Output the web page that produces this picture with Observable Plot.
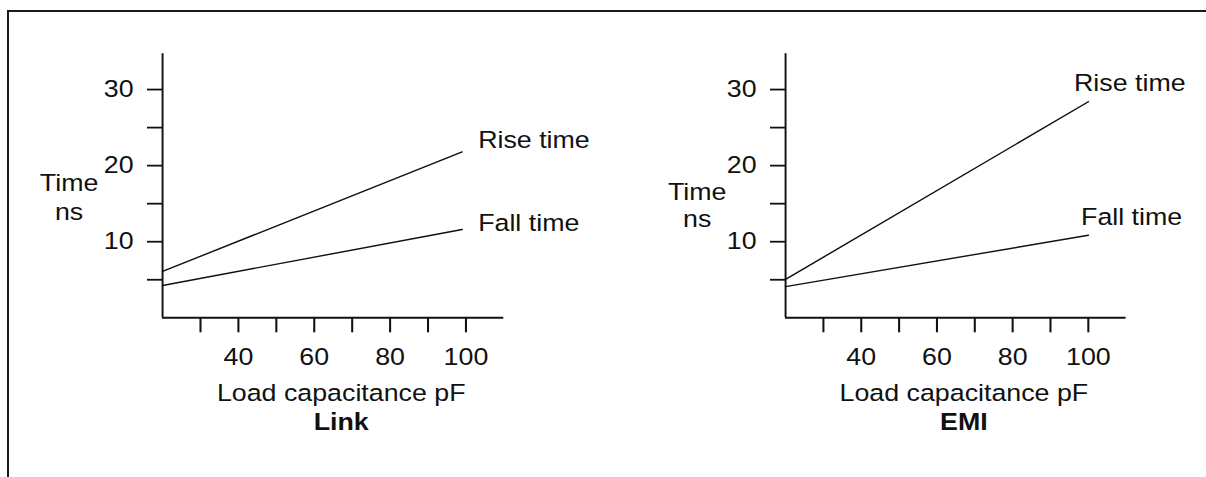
<!DOCTYPE html>
<html>
<head>
<meta charset="utf-8">
<script src="https://cdn.jsdelivr.net/npm/d3@7"></script>
<script src="https://cdn.jsdelivr.net/npm/@observablehq/plot@0.6"></script>
<style>
  html, body { margin: 0; padding: 0; background: #fff; }
  #wrap { position: relative; width: 1206px; height: 477px; overflow: hidden; }
  #frame { position: absolute; left: 7px; top: 10px; right: -20px; bottom: -20px;
           border-top: 2px solid #1a1a1a; border-left: 2px solid #1a1a1a; }
  .panel { position: absolute; top: 0; }
</style>
</head>
<body>
<div id="wrap"><div id="frame"></div></div>
<script>
// ---- data ----
const seriesNames = ["Rise time", "Fall time"];
const linkCapacitance = [20, 99];
const linkRise = [6.1, 21.8];
const linkFall = [4.25, 11.6];
const emiCapacitance = [20, 100];
const emiRise = [5.05, 28.4];
const emiFall = [4.1, 10.85];
const xTicks = [30, 40, 50, 60, 70, 80, 90, 100];
const xTickLabels = [40, 60, 80, 100];
const yTicks = [5, 10, 15, 20, 25, 30];
const yTickLabels = [10, 20, 30];
const xTitle = "Load capacitance pF";
const yTitle = ["Time", "ns"];

// ---- layout ----
const S = 1.14;         // horizontal stretch of the original drawing
const PW = 603;         // displayed width of each panel
const H = 477;
const FS = 23.5;
const FONT = "'Liberation Sans', Arial, Helvetica, sans-serif";
const INK = "#111";

function rows(cap, rise, fall) {
  const out = [];
  cap.forEach((c, i) => out.push({c, t: rise[i], s: seriesNames[0]}));
  cap.forEach((c, i) => out.push({c, t: fall[i], s: seriesNames[1]}));
  return out;
}

function panel({cap, rise, fall, title, left, axisX, axisEnd, riseOff, fallOff, timeOff, nsOff, titleDx}) {
  const data = rows(cap, rise, fall);
  const ends = [
    {c: cap[cap.length - 1], t: rise[rise.length - 1], s: seriesNames[0]},
    {c: cap[cap.length - 1], t: fall[fall.length - 1], s: seriesNames[1]}
  ];
  const u = v => v / S; // display px -> drawing units (horizontal)
  const plot = Plot.plot({
    width: PW / S,
    height: H,
    marginLeft: u(axisX - left),
    marginRight: u(left + PW - axisEnd),
    marginTop: 53.3,
    marginBottom: 159.7,
    style: {fontFamily: FONT, fontSize: FS + "px", color: INK, background: "transparent", overflow: "visible"},
    x: {domain: [20, 110], ticks: xTicks, tickFormat: d => xTickLabels.includes(d) ? String(d) : "",
        tickSize: 15, tickPadding: 15.5, label: null},
    y: {domain: [0, 34.7], ticks: yTicks, tickFormat: d => yTickLabels.includes(d) ? String(d) : "",
        tickSize: u(15), tickPadding: u(14), label: null},
    marks: [
      Plot.ruleX([20], {stroke: INK, strokeWidth: 1.7}),
      Plot.ruleY([0], {stroke: INK, strokeWidth: 2}),
      Plot.line(data, {x: "c", y: "t", z: "s", stroke: INK, strokeWidth: 1.4}),
      Plot.text(ends.filter(d => d.s === seriesNames[0]), {x: "c", y: "t", text: "s", textAnchor: "start",
        dx: u(riseOff[0]), dy: riseOff[1], fontSize: FS, fill: INK}),
      Plot.text(ends.filter(d => d.s === seriesNames[1]), {x: "c", y: "t", text: "s", textAnchor: "start",
        dx: u(fallOff[0]), dy: fallOff[1], fontSize: FS, fill: INK}),
      Plot.text([yTitle[0]], {frameAnchor: "left", text: d => d, textAnchor: "middle",
        dx: u(timeOff[0]), dy: timeOff[1], fontSize: FS, fill: INK}),
      Plot.text([yTitle[1]], {frameAnchor: "left", text: d => d, textAnchor: "middle",
        dx: u(nsOff[0]), dy: nsOff[1], fontSize: FS, fill: INK}),
      Plot.text([xTitle], {frameAnchor: "bottom", text: d => d, textAnchor: "middle", lineAnchor: "middle",
        dx: u(titleDx), dy: 76, fontSize: FS, fill: INK}),
      Plot.text([title], {frameAnchor: "bottom", text: d => d, textAnchor: "middle", lineAnchor: "middle",
        dx: u(titleDx), dy: 105, fontSize: FS, fontWeight: "bold", fill: INK})
    ]
  });
  plot.setAttribute("width", PW);
  plot.setAttribute("height", H);
  plot.setAttribute("preserveAspectRatio", "none");
  plot.style.maxWidth = "none";
  plot.style.width = PW + "px";
  plot.style.height = H + "px";
  plot.classList.add("panel");
  plot.style.left = left + "px";
  // heavier axis ticks, as in the reference
  plot.querySelectorAll('[aria-label*="axis"] line, [aria-label*="axis"] path, [aria-label*="tick"] line, [aria-label*="tick"] path')
    .forEach(el => { el.setAttribute("stroke-width", 1.8); el.style.strokeWidth = "1.8px"; el.setAttribute("stroke", INK); });
  document.getElementById("wrap").appendChild(plot);
}

panel({
  cap: linkCapacitance, rise: linkRise, fall: linkFall, title: "Link", left: 0,
  axisX: 162, axisEnd: 503.3,
  riseOff: [16, -11.7], fallOff: [16, -6.3],
  timeOff: [-93.5, -2.6], nsOff: [-93.5, 26.5], titleDx: 8
});
panel({
  cap: emiCapacitance, rise: emiRise, fall: emiFall, title: "EMI", left: 603,
  axisX: 785, axisEnd: 1125.6,
  riseOff: [-14.3, -18.3], fallOff: [-7.3, -17.6],
  timeOff: [-88.4, 6.4], nsOff: [-88.4, 33.5], titleDx: 8
});
</script>
</body>
</html>
